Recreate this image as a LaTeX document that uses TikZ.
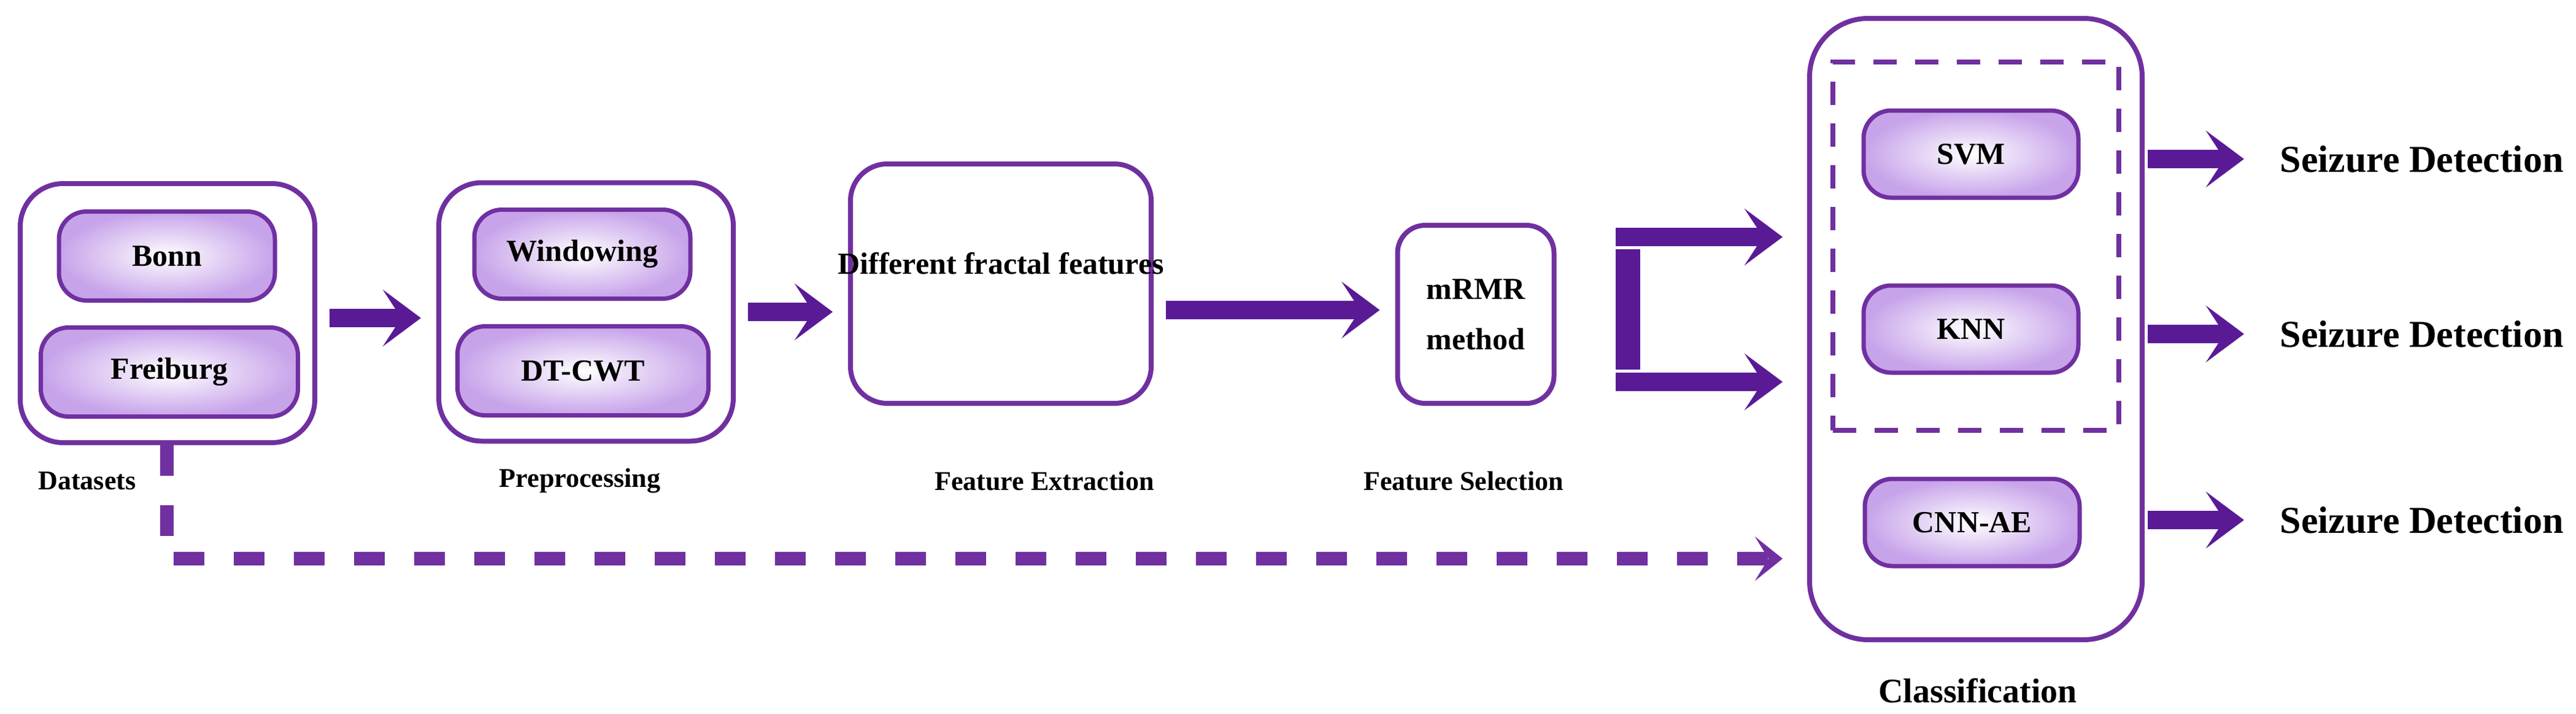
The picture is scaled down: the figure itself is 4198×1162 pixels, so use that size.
\documentclass[tikz,border=0pt]{standalone}
\usepackage{fontspec}
\setmainfont{Liberation Serif}
\usetikzlibrary{arrows.meta,calc}
\definecolor{pline}{HTML}{7030A0}
\definecolor{parr}{HTML}{5A1A96}
\definecolor{plav}{HTML}{C7A3EA}
\begin{document}
\begin{tikzpicture}[x=1pt,y=-1pt,
  outer/.style={draw=pline,line width=8pt,rounded corners=70pt,fill=white},
  pill/.style={draw=pline,line width=7pt,rounded corners=45pt,inner color=white,outer color=plav,font=\fontsize{50}{56}\selectfont\bfseries},
  lab/.style={font=\fontsize{44}{50}\selectfont\bfseries},
  outp/.style={font=\fontsize{62}{70}\selectfont\bfseries,anchor=west},
  big/.style={parr,line width=30pt,-{Stealth[length=62pt,width=92pt,inset=30pt]}},
  dasharr/.style={pline,line width=22pt,dash pattern=on 50pt off 48pt,-{Stealth[length=45pt,width=72pt,inset=22pt]}}]
\useasboundingbox (0,0) rectangle (4198,1162);
% Datasets
\node[outer,minimum width=480pt,minimum height=422pt] (ds) at (273,510) {};
\node[pill,minimum width=352pt,minimum height=145pt] (bonn) at (272,417) {Bonn};
\node[pill,minimum width=419pt,minimum height=145pt] (frei) at (276,606) {Freiburg};
\node[lab] (dsl) at (142,783) {Datasets};
% Preprocessing
\node[outer,minimum width=480pt,minimum height=421pt] (pp) at (955,508) {};
\node[pill,minimum width=352pt,minimum height=145pt] (win) at (949,414) {Windowing};
\node[pill,minimum width=409pt,minimum height=145pt] (dtc) at (950,604) {DT-CWT};
\node[lab] (ppl) at (945,783) {Preprocessing};
% Feature extraction
\node[outer,rounded corners=60pt,minimum width=490pt,minimum height=390pt] (fe) at (1631,462) {};
\node[font=\fontsize{50}{56}\selectfont\bfseries] (fet) at (1631,429) {Different fractal features};
\node[lab] (fel) at (1702,783) {Feature Extraction};
% mRMR
\node[outer,rounded corners=45pt,minimum width=255pt,minimum height=290pt,align=center,font=\fontsize{50}{62}\selectfont\bfseries] (mr) at (2405,512) {mRMR\\[20pt]method};
\node[lab] (mrl) at (2385,783) {Feature Selection};
% Classification
\node[outer,rounded corners=95pt,minimum width=542pt,minimum height=1012pt] (cl) at (3220,536) {};
\node[draw=pline,line width=8pt,dash pattern=on 38pt off 30pt,minimum width=466pt,minimum height=600pt] (dbox) at (3220,401) {};
\node[pill,minimum width=350pt,minimum height=142pt] (svm) at (3212,251) {SVM};
\node[pill,minimum width=350pt,minimum height=142pt] (knn) at (3212,536) {KNN};
\node[pill,minimum width=350pt,minimum height=142pt] (cnn) at (3214,851) {CNN-AE};
\node[lab,font=\fontsize{56}{62}\selectfont\bfseries] (cll) at (3223,1125) {Classification};
% Outputs
\node[outp] (o1) at (3712,259) {Seizure Detection};
\node[outp] (o2) at (3712,544) {Seizure Detection};
\node[outp] (o3) at (3712,847) {Seizure Detection};
% arrows
\draw[big] ($(ds.east |- 0,518)+(20pt,0)$) -- ($(pp.west |- 0,518)+(-25pt,0)$);
\draw[big] ($(pp.east |- 0,508)+(20pt,0)$) -- ($(fe.west |- 0,508)+(-25pt,0)$);
\draw[big] ($(fe.east |- 0,505)+(20pt,0)$) -- ($(mr.west |- 0,505)+(-25pt,0)$);
\coordinate (ft) at (2653,386);
\coordinate (fb) at (2653,622);
\draw[parr,line width=40pt] ($(ft)+(0,-20pt)$) -- ($(fb)+(0,20pt)$);
\draw[big] ($(ft)+(-20pt,0)$) -- ($(cl.west |- ft)+(-40pt,0)$);
\draw[big] ($(fb)+(-20pt,0)$) -- ($(cl.west |- fb)+(-40pt,0)$);
\draw[big] ($(cl.east |- 0,259)+(5pt,0)$) -- ($(o1.west)+(-55pt,0)$);
\draw[big] ($(cl.east |- 0,544)+(5pt,0)$) -- ($(o2.west)+(-55pt,0)$);
\draw[big] ($(cl.east |- 0,847)+(5pt,0)$) -- ($(o3.west)+(-55pt,0)$);
\coordinate (dc) at (272,910);
\draw[dasharr] (ds.south -| dc) -- (dc) -- ($(cl.west |- dc)+(-40pt,0)$);
\end{tikzpicture}
\end{document}
